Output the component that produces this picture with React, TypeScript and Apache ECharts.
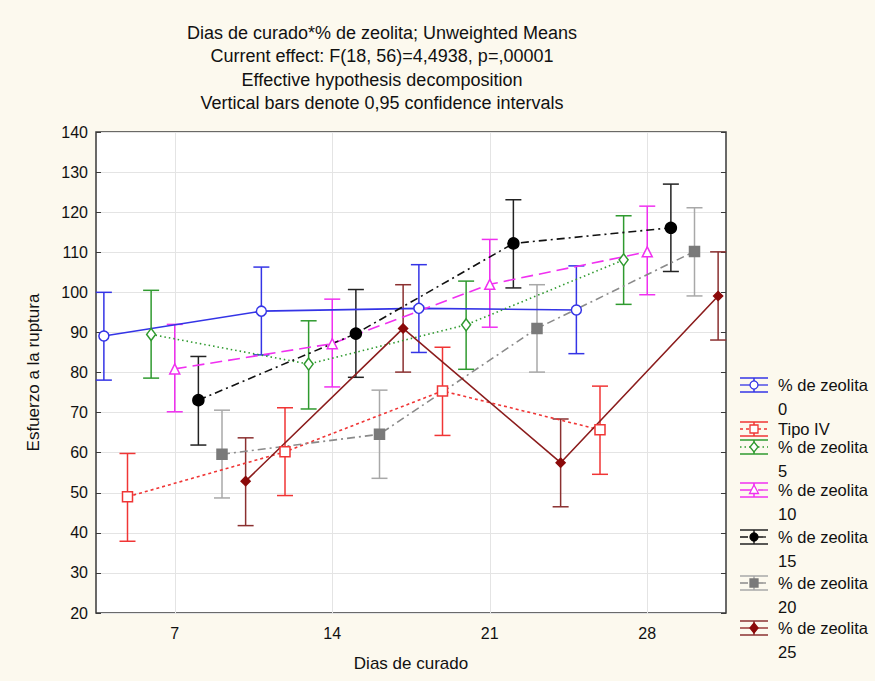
import React, { useEffect, useRef } from "react";
import * as echarts from "echarts";

const days = [7, 14, 21, 28];
const yTicks = [20, 30, 40, 50, 60, 70, 80, 90, 100, 110, 120, 130, 140];
const titleLines = [
  "Dias de curado*% de zeolita; Unweighted Means",
  "Current effect: F(18, 56)=4,4938, p=,00001",
  "Effective hypothesis decomposition",
  "Vertical bars denote 0,95 confidence intervals",
];
const seriesNames = [
  "% de zeolita\n0",
  "Tipo IV",
  "% de zeolita\n5",
  "% de zeolita\n10",
  "% de zeolita\n15",
  "% de zeolita\n20",
  "% de zeolita\n25",
];
const meanZ0 = [89.1, 95.3, 96.0, 95.6];
const lowZ0 = [78.1, 84.4, 85.0, 84.7];
const highZ0 = [100.0, 106.3, 106.9, 106.6];
const meanTipoIV = [49.0, 60.2, 75.4, 65.7];
const lowTipoIV = [37.9, 49.3, 64.3, 54.6];
const highTipoIV = [59.8, 71.2, 86.3, 76.6];
const meanZ5 = [89.5, 82.1, 91.9, 108.1];
const lowZ5 = [78.6, 70.9, 80.8, 97.0];
const highZ5 = [100.5, 92.9, 102.8, 119.1];
const meanZ10 = [80.9, 87.2, 102.0, 110.1];
const lowZ10 = [70.2, 76.4, 91.3, 99.4];
const highZ10 = [92.0, 98.3, 113.2, 121.5];
const meanZ15 = [73.1, 89.7, 112.2, 116.1];
const lowZ15 = [61.9, 78.8, 101.1, 105.2];
const highZ15 = [84.0, 100.7, 123.1, 127.0];
const meanZ20 = [59.6, 64.6, 91.0, 110.2];
const lowZ20 = [48.7, 53.6, 80.1, 99.1];
const highZ20 = [70.6, 75.6, 101.9, 121.1];
const meanZ25 = [52.9, 91.0, 57.5, 99.1];
const lowZ25 = [41.8, 80.1, 46.5, 88.1];
const highZ25 = [63.7, 101.9, 68.4, 110.1];

const means = [meanZ0, meanTipoIV, meanZ5, meanZ10, meanZ15, meanZ20, meanZ25];
const lows = [lowZ0, lowTipoIV, lowZ5, lowZ10, lowZ15, lowZ20, lowZ25];
const highs = [highZ0, highTipoIV, highZ5, highZ10, highZ15, highZ20, highZ25];

const FONT = "'Liberation Sans', Arial, sans-serif";
const OFFSET = 1.05;

type Style = {
  color: string;
  errColor: string;
  markColor: string;
  dash: any;
  symbol: string;
  size: number;
  filled: boolean;
};
const styles: Style[] = [
  { color: "#3434e6", errColor: "#3434e6", markColor: "#3434e6", dash: "solid", symbol: "circle", size: 10, filled: false },
  { color: "#f03535", errColor: "#f03535", markColor: "#f03535", dash: [3, 3], symbol: "rect", size: 10, filled: false },
  { color: "#2f9a2f", errColor: "#2f9a2f", markColor: "#2f9a2f", dash: [1.5, 3], symbol: "diamond", size: 11, filled: false },
  { color: "#f030f0", errColor: "#f030f0", markColor: "#f030f0", dash: [12, 6], symbol: "triangle", size: 10, filled: false },
  { color: "#111111", errColor: "#222222", markColor: "#000000", dash: [8, 4, 2, 4], symbol: "circle", size: 11, filled: true },
  { color: "#8a8a8a", errColor: "#a8a8a8", markColor: "#7a7a7a", dash: [8, 4, 2, 4], symbol: "rect", size: 10, filled: true },
  { color: "#8b1c1c", errColor: "#8b3030", markColor: "#8b0a0a", dash: "solid", symbol: "diamond", size: 9, filled: true },
];

const legendY = [385, 429, 447, 490, 537, 583, 628];

function legendSymbol(st: Style, cx: number, cy: number): any {
  const fill = st.filled ? st.markColor : "#ffffff";
  const stroke = { fill, stroke: st.markColor, lineWidth: 1.3 };
  if (st.symbol === "circle") return { type: "circle", shape: { cx, cy, r: 4 }, style: stroke };
  if (st.symbol === "rect") return { type: "rect", shape: { x: cx - 4, y: cy - 4, width: 8, height: 8 }, style: stroke };
  if (st.symbol === "diamond")
    return { type: "polygon", shape: { points: [[cx, cy - 5], [cx + 4, cy], [cx, cy + 5], [cx - 4, cy]] }, style: stroke };
  return { type: "polygon", shape: { points: [[cx, cy - 5], [cx + 4.5, cy + 3.5], [cx - 4.5, cy + 3.5]] }, style: stroke };
}

function buildLegend(): any[] {
  const els: any[] = [];
  const x0 = 740;
  const x1 = 768;
  const cx = (x0 + x1) / 2;
  styles.forEach((st, i) => {
    const y = legendY[i];
    const ls = { stroke: st.errColor, lineWidth: 1.5 };
    els.push({ type: "line", shape: { x1: x0, y1: y - 7, x2: x1, y2: y - 7 }, style: ls });
    els.push({ type: "line", shape: { x1: x0, y1: y + 7, x2: x1, y2: y + 7 }, style: ls });
    els.push({ type: "line", shape: { x1: cx, y1: y - 7, x2: cx, y2: y + 7 }, style: ls });
    els.push({
      type: "line",
      shape: { x1: x0, y1: y, x2: x1, y2: y },
      style: { stroke: st.color, lineWidth: 1.3, lineDash: st.dash === "solid" ? null : st.dash },
    });
    els.push(legendSymbol(st, cx, y));
    seriesNames[i].split("\n").forEach((line, j) => {
      els.push({
        type: "text",
        x: 778,
        y: y + j * 24,
        style: {
          text: line,
          font: `16.5px ${FONT}`,
          fill: "#111",
          verticalAlign: "middle",
          lineHeight: 17,
        },
      });
    });
  });
  return els;
}

export default function App() {
  const ref = useRef<HTMLDivElement>(null);
  useEffect(() => {
    document.body.style.margin = "0";
    const chart = echarts.init(ref.current!, null, { renderer: "svg" });
    const series: any[] = [];
    styles.forEach((st, i) => {
      const off = (i - 3) * OFFSET;
      const lineData = days.map((d, k) => [d + off, means[i][k]]);
      const errData = days.map((d, k) => [d + off, lows[i][k], highs[i][k]]);
      series.push({
        type: "custom",
        name: seriesNames[i] + "_err",
        data: errData,
        z: 2,
        silent: true,
        renderItem: (params: any, api: any) => {
          const x = api.value(0);
          const lo = api.coord([x, api.value(1)]);
          const hi = api.coord([x, api.value(2)]);
          const w = 8;
          const s = { stroke: st.errColor, lineWidth: 1.5 };
          return {
            type: "group",
            children: [
              { type: "line", shape: { x1: lo[0], y1: lo[1], x2: hi[0], y2: hi[1] }, style: s },
              { type: "line", shape: { x1: lo[0] - w, y1: lo[1], x2: lo[0] + w, y2: lo[1] }, style: s },
              { type: "line", shape: { x1: hi[0] - w, y1: hi[1], x2: hi[0] + w, y2: hi[1] }, style: s },
            ],
          };
        },
        encode: { x: 0, y: [1, 2] },
      });
      series.push({
        type: "line",
        name: seriesNames[i],
        data: lineData,
        z: 3,
        symbol: st.symbol,
        symbolSize: st.symbol === "diamond" && !st.filled ? [9, 12] : st.size,
        showSymbol: true,
        lineStyle: { color: st.color, width: 1.6, type: st.dash },
        itemStyle: {
          color: st.filled ? st.markColor : "#ffffff",
          borderColor: st.markColor,
          borderWidth: 1.5,
        },
        markLine:
          i === 0
            ? {
                silent: true,
                symbol: "none",
                label: { show: false },
                lineStyle: { color: "#e4e4e4", width: 1, type: "solid" },
                data: days.map((d) => ({ xAxis: d })),
                z: 1,
              }
            : undefined,
      });
    });

    const option: any = {
      animation: false,
      backgroundColor: "#fcf9ee",
      textStyle: { fontFamily: FONT },
      grid: {
        left: 96,
        right: 149,
        top: 132,
        bottom: 68,
        show: true,
        backgroundColor: "#ffffff",
        borderColor: "#3a3a3a",
        borderWidth: 1.5,
      },
      xAxis: [
        {
          type: "value",
          min: 3.5,
          max: 31.5,
          name: "Dias de curado",
          nameLocation: "middle",
          nameGap: 42,
          nameTextStyle: { fontSize: 17, color: "#111", fontFamily: FONT },
          axisLine: { show: false },
          axisTick: { show: true, inside: true, length: 5, customValues: days, lineStyle: { color: "#3a3a3a" } },
          axisLabel: { show: true, customValues: days, fontSize: 16, color: "#111", margin: 12, fontFamily: FONT },
          splitLine: { show: false },
        },
        {
          type: "value",
          position: "top",
          min: 3.5,
          max: 31.5,
          axisLine: { show: false },
          axisTick: { show: true, inside: true, length: 5, customValues: days, lineStyle: { color: "#3a3a3a" } },
          axisLabel: { show: false },
          splitLine: { show: false },
        },
      ],
      yAxis: [
        {
          type: "value",
          min: 20,
          max: 140,
          interval: 10,
          name: "Esfuerzo a la ruptura",
          nameLocation: "middle",
          nameGap: 54,
          nameTextStyle: { fontSize: 17, color: "#111", fontFamily: FONT },
          axisLine: { show: false },
          axisTick: { show: true, inside: true, length: 5, lineStyle: { color: "#3a3a3a" } },
          axisLabel: { fontSize: 16, color: "#111", margin: 8, fontFamily: FONT },
          splitLine: { show: true, lineStyle: { color: "#e4e4e4", width: 1 } },
        },
        {
          type: "value",
          position: "right",
          min: 20,
          max: 140,
          interval: 10,
          axisLine: { show: false },
          axisTick: { show: true, inside: true, length: 5, lineStyle: { color: "#3a3a3a" } },
          axisLabel: { show: false },
          splitLine: { show: false },
        },
      ],
      title: {
        text: titleLines.join("\n"),
        left: 377,
        top: 16,
        textAlign: "center",
        textStyle: { fontSize: 18, fontWeight: "normal", color: "#111", lineHeight: 23.5, fontFamily: FONT },
      },
      graphic: buildLegend(),
      series,
    };
    chart.setOption(option);
    return () => chart.dispose();
  }, []);
  return <div ref={ref} style={{ width: 875, height: 681 }} />;
}
